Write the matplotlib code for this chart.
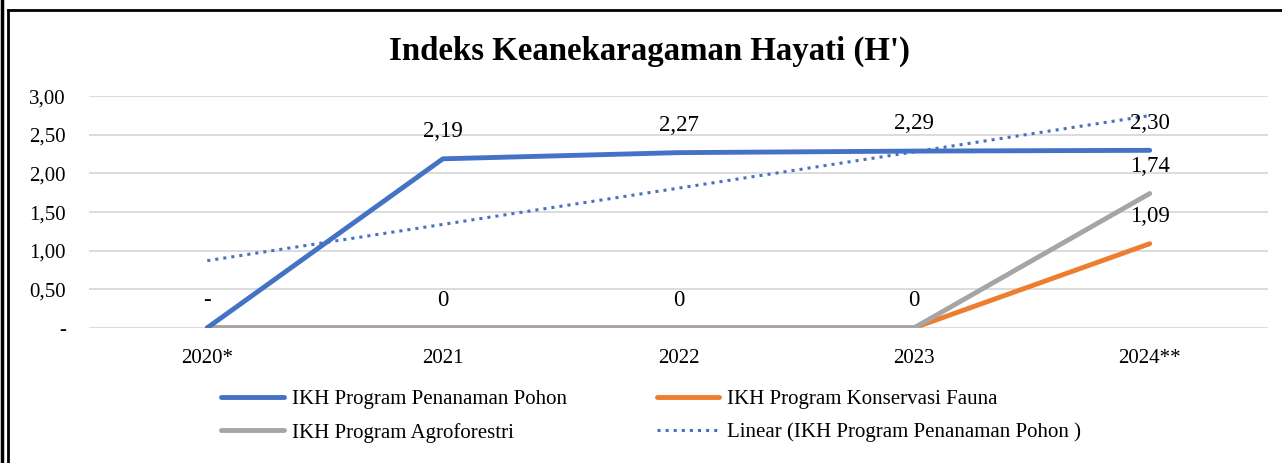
import matplotlib.pyplot as plt
import numpy as np

plt.rcParams['font.family'] = ['Liberation Serif', 'DejaVu Serif']

years = ['2020*', '2021', '2022', '2023', '2024**']
pohon = [0, 2.19, 2.27, 2.29, 2.30]
fauna = [0, 0, 0, 0, 1.09]
agro = [0, 0, 0, 0, 1.74]

pohon_labels = ['-', '2,19', '2,27', '2,29', '2,30']
zero_labels = ['', '0', '0', '0', '']

x = np.arange(len(years))
# linear trend like excel, x = 1..n
a, b = np.polyfit(x + 1, pohon, 1)
trend = a * (x + 1) + b

fig = plt.figure(figsize=(12.82, 4.63), dpi=100)
ax = fig.add_axes([0.0698, 0.292, 0.9189, 0.5])

ax.plot(x, trend, ':', color='#4472c4', lw=2.2, zorder=2,
        label='Linear (IKH Program Penanaman Pohon )')
ax.plot(x, fauna, color='#ed7d31', lw=3.5, solid_capstyle='round', zorder=3,
        label='IKH Program Konservasi Fauna')
ax.plot(x, agro, color='#a5a5a5', lw=3.5, solid_capstyle='round', zorder=4,
        label='IKH Program Agroforestri')
ax.plot(x, pohon, color='#4472c4', lw=3.5, solid_capstyle='round', zorder=5,
        label='IKH Program Penanaman Pohon')

fs = 16.5
for i in range(len(years)):
    ax.annotate(pohon_labels[i], (x[i], pohon[i]), xytext=(0, 12),
                textcoords='offset points', ha='center', va='bottom', fontsize=fs)
    if zero_labels[i]:
        ax.annotate(zero_labels[i], (x[i], 0), xytext=(0, 12),
                    textcoords='offset points', ha='center', va='bottom', fontsize=fs)
ax.annotate('1,74', (4, 1.74), xytext=(0, 12), textcoords='offset points',
            ha='center', va='bottom', fontsize=fs)
ax.annotate('1,09', (4, 1.09), xytext=(0, 12), textcoords='offset points',
            ha='center', va='bottom', fontsize=fs)

ax.set_xlim(-0.5, 4.5)
ax.set_ylim(0, 3)
ax.set_yticks(np.arange(0, 3.01, 0.5))
ax.set_yticklabels(['-', '0,50', '1,00', '1,50', '2,00', '2,50', '3,00'])
ax.set_xticks(x)
ax.set_xticklabels(years)
ax.tick_params(length=0, labelsize=15)
ax.tick_params(axis='x', pad=15)
ax.tick_params(axis='y', pad=17)
for lbl in ax.get_yticklabels():
    lbl.set_horizontalalignment('right')
ax.grid(axis='y', color='#d9d9d9', lw=1.3)
ax.set_axisbelow(True)
for s in ax.spines.values():
    s.set_visible(False)

fig.suptitle("Indeks Keanekaragaman Hayati (H')", fontsize=23.7, fontweight='bold',
             x=0.507, y=0.922)

handles, labels = ax.get_legend_handles_labels()
order = [3, 2, 1, 0]
fig.legend([handles[k] for k in order], [labels[k] for k in order],
           loc='center', bbox_to_anchor=(0.508, 0.1015), ncol=2, frameon=False,
           fontsize=15, handlelength=3.0, columnspacing=4.3, handletextpad=0.4,
           labelspacing=0.65)

# frame borders
fig.add_artist(plt.Line2D([0.0012, 0.0012], [0, 1], color='black', lw=2.5))
fig.add_artist(plt.Line2D([0.0062, 0.0062], [0, 0.979], color='black', lw=2))
fig.add_artist(plt.Line2D([0.0062, 1], [0.979, 0.979], color='black', lw=2))

fig.savefig('out.png', dpi=100)
